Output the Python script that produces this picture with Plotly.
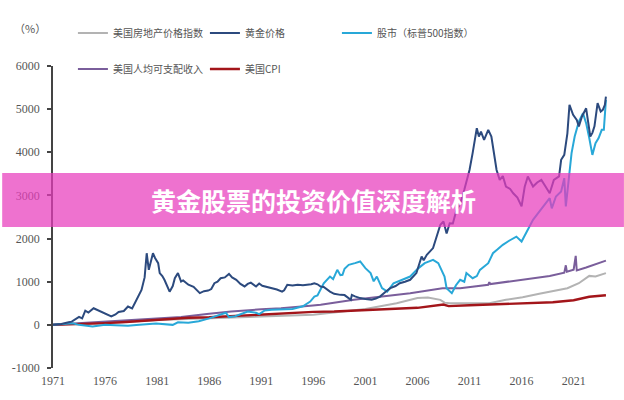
import plotly.graph_objects as go

# ---------------- data ----------------
gold_years = [1971.0, 1971.8, 1972.5, 1972.8, 1973.5, 1973.8, 1974.1, 1974.4, 1974.9, 1975.3, 1975.7,
              1976.2, 1976.6, 1977.0, 1977.3, 1977.8, 1978.2, 1978.6, 1979.0, 1979.5, 1979.8, 1980.0,
              1980.2, 1980.4, 1980.6, 1980.8, 1981.1, 1981.25, 1981.5, 1981.7, 1982.0, 1982.2, 1982.5,
              1982.7, 1983.0, 1983.3, 1983.5, 1983.8, 1984.0, 1984.5, 1985.1, 1985.5, 1985.9, 1986.2,
              1986.5, 1986.8, 1987.1, 1987.5, 1987.9, 1988.2, 1988.6, 1989.0, 1989.4, 1989.7, 1990.0,
              1990.5, 1990.8, 1991.1, 1991.5, 1991.9, 1992.5, 1993.0, 1993.2, 1993.5, 1994.0, 1994.5,
              1995.0, 1995.4, 1995.8, 1996.1, 1996.4, 1996.7, 1997.0, 1997.6, 1998.0, 1998.6, 1999.0,
              1999.6, 1999.7, 2000.0, 2000.5, 2001.0, 2001.6, 2002.0, 2002.4, 2003.0, 2003.4, 2003.9,
              2004.3, 2004.8, 2005.3, 2005.9, 2006.4, 2006.6, 2006.9, 2007.5, 2008.0, 2008.2, 2008.5,
              2008.8, 2009.1, 2009.4, 2009.75, 2010.1, 2010.5, 2011.0, 2011.3, 2011.7, 2011.9, 2012.1,
              2012.4, 2012.8, 2013.1, 2013.4, 2013.6, 2013.9, 2014.2, 2014.5, 2014.9, 2015.2, 2015.6,
              2016.0, 2016.3, 2016.6, 2017.1, 2017.5, 2017.9, 2018.3, 2018.7, 2019.1, 2019.6, 2019.8,
              2020.1, 2020.4, 2020.6, 2020.95, 2021.3, 2021.5, 2021.8, 2022.2, 2022.6, 2022.8, 2023.0,
              2023.3, 2023.6, 2023.8, 2024.0, 2024.1]
gold_values = [0, 20, 60, 75, 185, 150, 330, 285, 385, 340, 310,
               250, 195, 240, 300, 320, 425, 380, 555, 810, 1100, 1660,
               1275, 1500, 1660, 1550, 1430, 1200, 1130, 1045, 900, 770, 900,
               1080, 1200, 1005, 1030, 980, 930, 880, 735, 780, 795, 830,
               965, 1000, 1080, 1100, 1180, 1100, 1045, 950, 890, 950, 980,
               890, 960, 905, 880, 850, 820, 770, 800, 930, 910, 930,
               920, 930, 940, 965, 940, 890, 880, 770, 720, 695, 690,
               580, 695, 660, 620, 600, 580, 610, 655, 780, 850, 900,
               965, 1000, 1045, 1200, 1585, 1500, 1625, 1780, 2200, 2320, 2395,
               2120, 2355, 2350, 2665, 2800, 3130, 3590, 3980, 4560, 4365, 4480,
               4290, 4520, 4365, 3900, 3590, 3360, 3450, 3205, 3150, 3050, 2950,
               2745, 3200, 3440, 3205, 3300, 3360, 3205, 3050, 3360, 3440, 3825,
               3940, 4440, 5100, 4870, 4750, 4600, 4830, 5020, 4365, 4450, 4600,
               5140, 4945, 4985, 5100, 5290]

stock_years = [1971.0, 1972.0, 1972.9, 1973.5, 1974.0, 1974.8, 1975.5, 1976.0, 1977.0, 1978.2, 1979.0,
               1980.0, 1980.9, 1982.5, 1983.0, 1984.0, 1985.0, 1986.0, 1986.5, 1987.6, 1987.9, 1988.5,
               1989.7, 1990.5, 1990.8, 1991.3, 1992.0, 1993.0, 1994.0, 1995.0, 1995.4, 1995.7, 1996.1,
               1996.4, 1997.0, 1997.6, 1997.9, 1998.3, 1998.6, 1998.8, 1999.0, 1999.4, 2000.0, 2000.5,
               2001.0, 2001.5, 2001.8, 2002.1, 2002.6, 2003.1, 2003.7, 2004.5, 2005.3, 2006.1, 2006.7,
               2007.5, 2008.0, 2008.6, 2008.8, 2009.3, 2009.7, 2010.1, 2010.5, 2010.7, 2011.3, 2011.7,
               2012.0, 2012.8, 2013.25, 2013.7, 2014.2, 2014.8, 2015.5, 2016.0, 2016.6, 2017.1, 2017.7,
               2018.2, 2018.7, 2018.9, 2019.3, 2019.8, 2020.1, 2020.25, 2020.6, 2020.8, 2021.1, 2021.5,
               2021.9, 2022.2, 2022.5, 2022.8, 2023.1, 2023.4, 2023.7, 2023.9, 2024.1]
stock_values = [0, 15, 35, 0, -20, -40, -15, 0, -10, -20, -5,
                20, 30, 0, 60, 50, 85, 150, 195, 280, 180, 200,
                310, 280, 250, 330, 350, 360, 370, 430, 500, 540, 655,
                680, 965, 1120, 1060, 1275, 1150, 1160, 1300, 1390, 1430, 1470,
                1315, 1200, 1010, 1120, 850, 770, 965, 1045, 1120, 1315, 1430,
                1505, 1430, 1120, 850, 735, 920, 1045, 1000, 1200, 1080, 1130,
                1275, 1430, 1660, 1750, 1855, 1950, 2045, 1930, 2200, 2435, 2625,
                2780, 2935, 2700, 2975, 3090, 3400, 2745, 3515, 3980, 4365, 4710,
                4905, 4675, 4330, 3940, 4210, 4330, 4520, 4520, 5215]

income_years = [1971, 1976, 1981, 1983.3, 1986, 1988.1, 1991, 1992.9, 1995.7, 1996.7, 1999.9, 2002.5,
                2005.3, 2008.4, 2010.1, 2012.8, 2012.9, 2013.0, 2016.1, 2018.7, 2020.1, 2020.25, 2020.35,
                2021.0, 2021.2, 2021.3, 2022.2, 2023.0, 2024.1]
income_values = [0, 80, 160, 180, 260, 310, 360, 385, 440, 465, 580, 650,
                 735, 850, 850, 930, 990, 945, 1045, 1135, 1210, 1380, 1230,
                 1280, 1600, 1260, 1330, 1400, 1490]

cpi_years = [1971, 1974, 1976, 1978, 1981, 1984, 1986, 1988, 1991, 1994, 1996, 1998, 2001, 2003, 2006,
             2008.5, 2009.0, 2011, 2014, 2016, 2019, 2021, 2022.5, 2024.1]
cpi_values = [0, 20, 40, 65, 120, 165, 175, 200, 245, 270, 300, 310, 337, 355, 395,
              470, 435, 455, 485, 495, 525, 570, 650, 685]

house_years = [1971, 1976, 1981, 1986, 1991, 1996, 2001, 2004, 2006, 2007, 2008.2, 2008.6, 2009.1,
               2011.3, 2012.9, 2014.5, 2016.1, 2017.7, 2019.3, 2020.4, 2021.5, 2022.5, 2023.1, 2024.1]
house_values = [0, 40, 110, 150, 190, 235, 370, 500, 620, 635, 580, 515, 500,
                490, 500, 580, 640, 720, 790, 850, 965, 1135, 1120, 1200]

x_ticks = [1971, 1976, 1981, 1986, 1991, 1996, 2001, 2006, 2011, 2016, 2021]
y_ticks = [-1000, 0, 1000, 2000, 3000, 4000, 5000, 6000]
y_tick_text = ["-1000", "0", "1000", "2000", "3000", "4000", "5000", "6000"]

# ---------------- figure ----------------
W, H = 624, 400
ML, MR, MT, MB = 51, 16, 66, 32
PW, PH = W - ML - MR, H - MT - MB
Y0, Y1 = -1000, 6000
X0, X1 = 1971, 2024.3

def px_x(p):
    return (p - ML) / PW

def px_y(p):
    return (H - MB - p) / PH

CJK = "Noto Sans CJK SC"
SERIF = "Liberation Serif, DejaVu Serif, serif"
TXT = "#555555"

fig = go.Figure()
series = [
    ("美国房地产价格指数", house_years, house_values, "#b3b3b3", 2.0, "legend", 1),
    ("美国人均可支配收入", income_years, income_values, "#7a5e9b", 2.0, "legend2", 4),
    ("美国CPI", cpi_years, cpi_values, "#a3151a", 2.4, "legend2", 5),
    ("股市（标普500指数）", stock_years, stock_values, "#28a8d8", 2.0, "legend", 3),
    ("黄金价格", gold_years, gold_values, "#2c4a7e", 2.0, "legend", 2),
]
for name, xs, ys, col, w, lg, rank in series:
    fig.add_trace(go.Scatter(x=xs, y=ys, mode="lines", name=name,
                             line=dict(color=col, width=w),
                             legend=lg, legendrank=rank, hoverinfo="skip"))

fig.update_layout(
    width=W, height=H,
    margin=dict(l=ML, r=MR, t=MT, b=MB),
    paper_bgcolor="white", plot_bgcolor="white",
    showlegend=True,
    legend=dict(orientation="h", x=px_x(71), xanchor="left", y=px_y(33), yanchor="middle",
                entrywidth=87, font=dict(family=CJK, size=10, color=TXT),
                bgcolor="rgba(0,0,0,0)", itemclick=False),
    legend2=dict(orientation="h", x=px_x(71), xanchor="left", y=px_y(69), yanchor="middle",
                 entrywidth=87, font=dict(family=CJK, size=10, color=TXT),
                 bgcolor="rgba(0,0,0,0)", itemclick=False),
    xaxis=dict(range=[X0, X1], tickvals=x_ticks, ticktext=[str(v) for v in x_ticks],
               showline=False, ticks="", showgrid=False, zeroline=False, ticklabelstandoff=4,
               tickfont=dict(family=SERIF, size=12, color=TXT)),
    xaxis2=dict(range=[X0, X1], overlaying="x", anchor="free", position=(0 - Y0) / (Y1 - Y0),
                tickvals=x_ticks, showticklabels=False, showline=True, linecolor="#444444",
                linewidth=1.5, ticks="outside", ticklen=4, tickwidth=1.5, tickcolor="#444444",
                showgrid=False, zeroline=False),
    yaxis=dict(range=[Y0, Y1], tickvals=y_ticks, ticktext=y_tick_text, showline=True,
               linecolor="#444444", linewidth=1.5, ticks="outside", ticklen=4, tickwidth=1.5,
               tickcolor="#444444", showgrid=False, zeroline=False, ticklabelstandoff=5,
               tickfont=dict(family=SERIF, size=12, color=TXT)),
    shapes=[dict(type="rect", xref="paper", yref="paper",
                 x0=px_x(0), x1=px_x(W), y0=px_y(227), y1=px_y(173),
                 fillcolor="rgba(232,60,188,0.72)", line=dict(width=0), layer="above")],
    annotations=[
        dict(text="（%）", xref="paper", yref="paper", x=px_x(10), y=px_y(18),
             xanchor="left", showarrow=False, font=dict(family=CJK, size=11, color=TXT)),
        dict(text="<b>黄金股票的投资价值深度解析</b>", xref="paper", yref="paper",
             x=px_x(312), y=px_y(200), showarrow=False,
             font=dict(family=CJK, size=25, color="white")),
    ],
)

fig.write_html("out.html")
